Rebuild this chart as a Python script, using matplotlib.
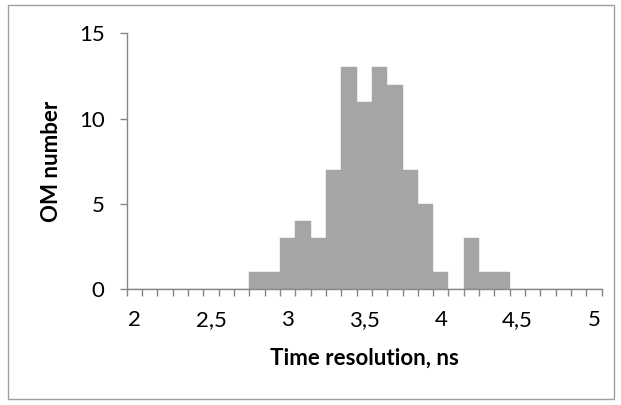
import matplotlib
matplotlib.use("Agg")
import matplotlib.pyplot as plt
from matplotlib.patches import Rectangle

categories = [round(2.0 + 0.1 * i, 1) for i in range(31)]
counts = [0, 0, 0, 0, 0, 0, 0, 0, 1, 1, 3, 4, 3, 7, 13, 11, 13, 12, 7, 5, 1, 0, 3, 1, 1, 0, 0, 0, 0, 0, 0]
tick_labels = ["2", "2,5", "3", "3,5", "4", "4,5", "5"]
y_ticks = [0, 5, 10, 15]

plt.rcParams['font.family'] = ['Lato', 'DejaVu Sans']

W, H = 621, 405
fig = plt.figure(figsize=(W / 100, H / 100), dpi=100)
ax = fig.add_axes([126.7 / W, 1 - 289.3 / H, (601.7 - 126.7) / W, (289.3 - 33.3) / H])

pos = list(range(len(categories)))
ax.bar(pos, counts, width=1.0, color='#A5A5A5', edgecolor='#A5A5A5', linewidth=0.3, zorder=2)

ax.set_xlim(-0.5, len(categories) - 0.5)
ax.set_ylim(0, 15)

axis_col = '#868686'
for s in ['top', 'right']:
    ax.spines[s].set_visible(False)
for s in ['left', 'bottom']:
    ax.spines[s].set_color(axis_col)
    ax.spines[s].set_linewidth(1.0)
ax.spines['bottom'].set_zorder(3)

label_pos = [i for i, c in enumerate(categories) if abs(c * 2 - round(c * 2)) < 1e-6]
ax.set_xticks(label_pos)
ax.set_xticklabels(tick_labels, fontsize=16)
ax.tick_params(axis='x', which='major', length=0, pad=15)
ax.set_xticks([p - 0.5 for p in pos] + [pos[-1] + 0.5], minor=True)
ax.tick_params(axis='x', which='minor', length=5, color=axis_col, width=1.0)

ax.set_yticks(y_ticks)
ax.set_yticklabels([str(v) for v in y_ticks], fontsize=16)
ax.tick_params(axis='y', length=5, color=axis_col, width=1.0, pad=11)

ax.set_xlabel('Time resolution, ns', fontsize=16, fontweight='bold', labelpad=13)
ax.set_ylabel('OM number', fontsize=16, fontweight='bold', labelpad=12)

fig.patches.append(Rectangle((8 / W, 1 - 399 / H), (614 - 8) / W, (399 - 5) / H,
                             transform=fig.transFigure, fill=False,
                             edgecolor='#A0A0A0', linewidth=1.0))

fig.savefig('out.png', dpi=100)
